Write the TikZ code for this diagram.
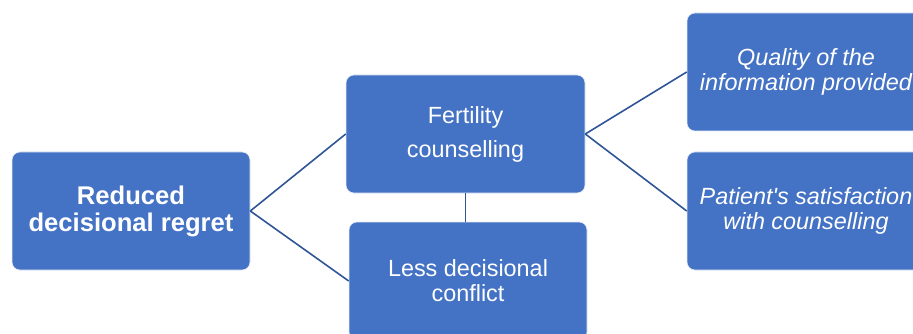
\documentclass[tikz,border=0pt]{standalone}
\usepackage{fontspec}
\setmainfont{Liberation Sans}
\definecolor{boxblue}{RGB}{68,114,196}
\definecolor{linkblue}{RGB}{47,85,151}
\begin{document}
\begin{tikzpicture}[x=1pt,y=-1pt,
  box/.style={draw=white!85!boxblue, line width=0.6pt, fill=boxblue, rounded corners=8pt,
    minimum width=238pt, minimum height=118pt, inner sep=0pt, align=center, text=white,
    font=\fontsize{23.4}{25}\selectfont},
  link/.style={draw=linkblue, line width=1.6pt}]
\useasboundingbox (0,0) rectangle (913,334);
\clip (0,0) rectangle (913,334);
\node[box, font=\fontsize{25.6}{27}\selectfont\bfseries] (A) at (131,211) {Reduced\\decisional regret};
\node[box, minimum width=239pt, font=\fontsize{23.4}{34}\selectfont] (B) at (465.5,134) {Fertility\\counselling};
\node[box] (C) at (468,281) {Less decisional\\conflict};
\node[box, font=\fontsize{23.4}{25}\selectfont\itshape] (D) at (806,72) {Quality of the\\information provided};
\node[box, font=\fontsize{23.4}{25}\selectfont\itshape] (E) at (806,211) {Patient\textquotesingle s satisfaction\\with counselling};
\draw[link] (A.east) -- (B.west);
\draw[link] (A.east) -- (C.west);
\draw[link] (B.east) -- (D.west);
\draw[link] (B.east) -- (E.west);
\draw[link, line width=1.2pt] (B.south) -- (B.south |- C.north);
\end{tikzpicture}
\end{document}
